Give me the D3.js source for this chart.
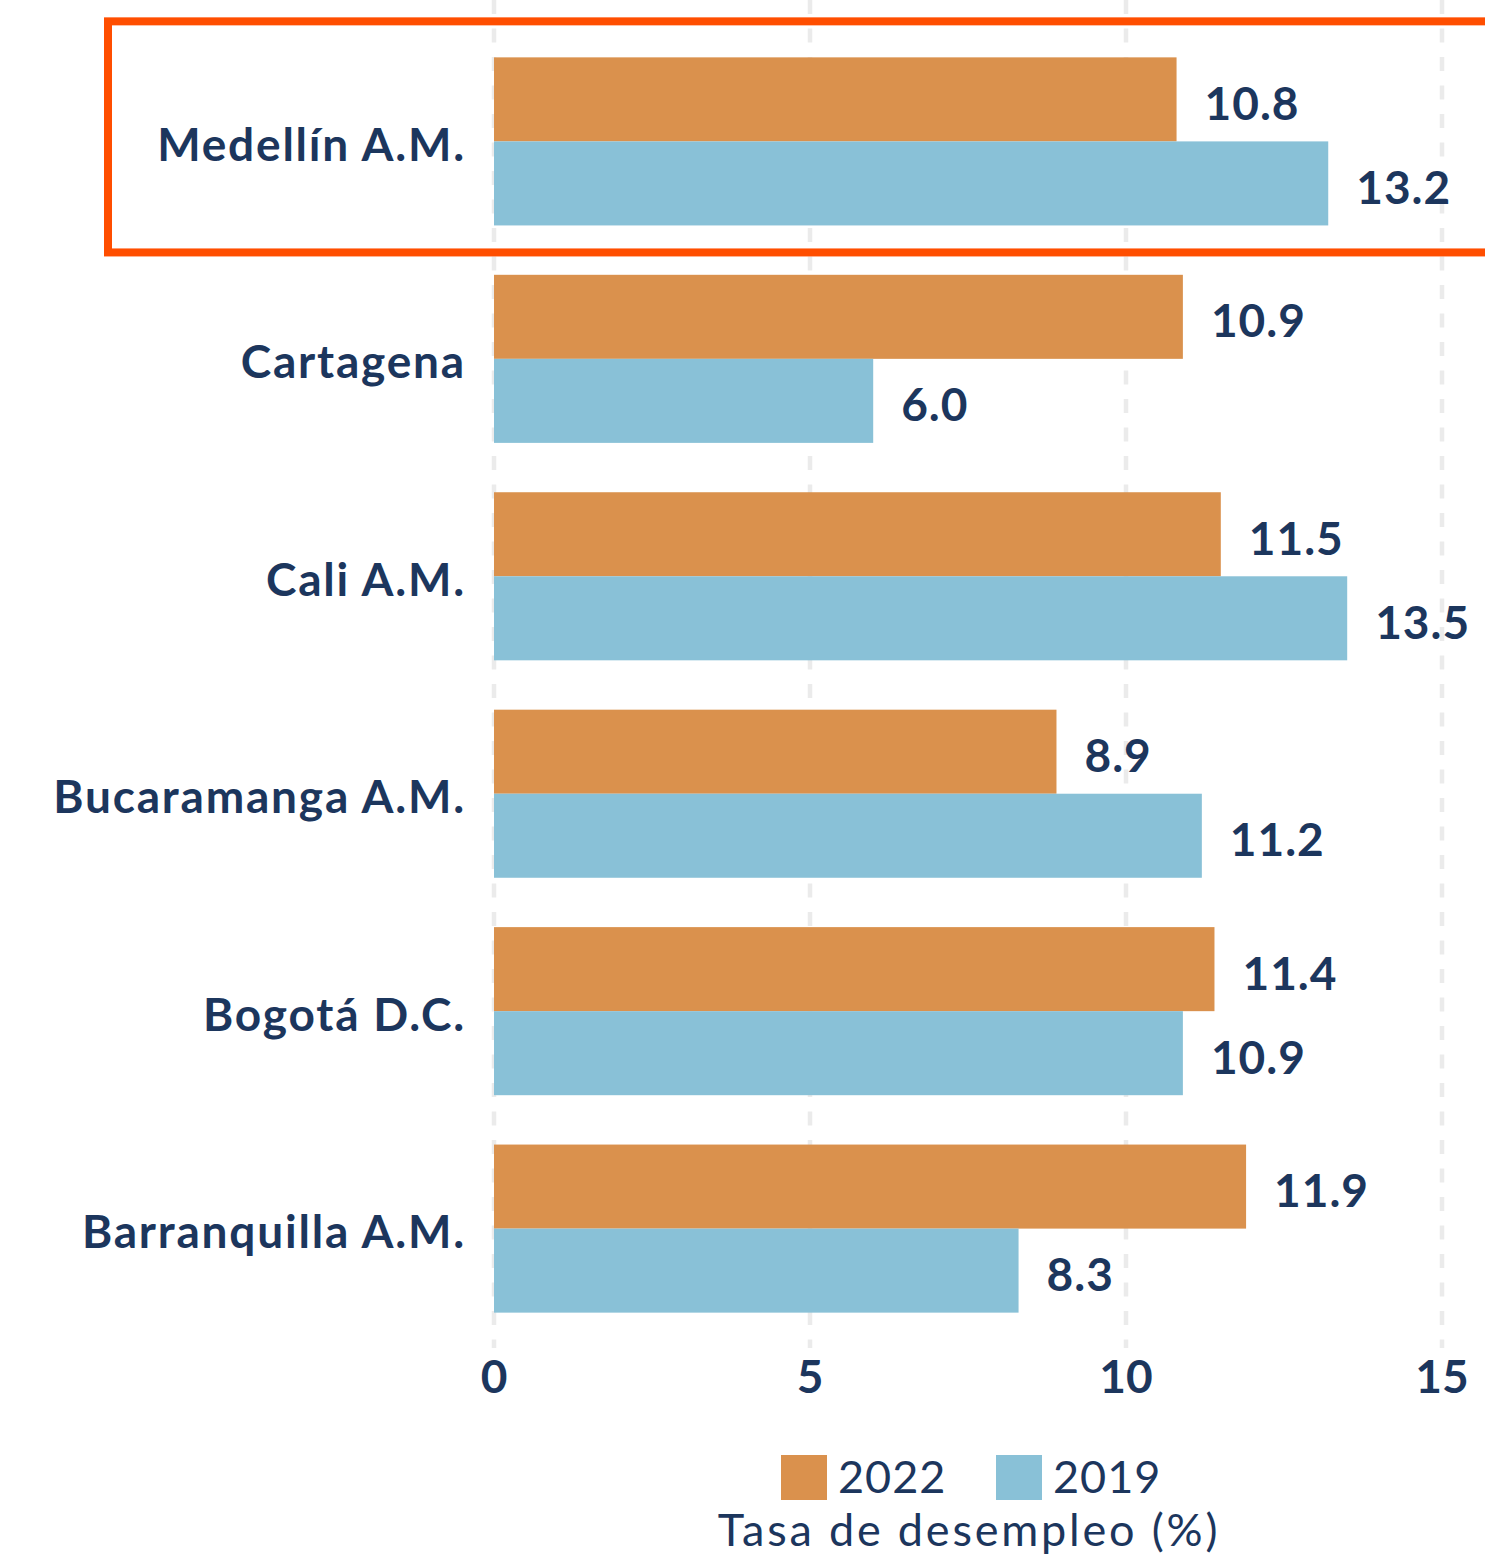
<!DOCTYPE html>
<html>
<head>
<meta charset="utf-8">
<script src="https://cdn.jsdelivr.net/npm/d3@7"></script>
<style>
  body { margin: 0; background: #fff; }
  svg { display: block; font-family: Lato, "Open Sans", sans-serif; }
</style>
</head>
<body>
<div id="chart"></div>
<script>
// data
var cities = ["Medellín A.M.", "Cartagena", "Cali A.M.", "Bucaramanga A.M.", "Bogotá D.C.", "Barranquilla A.M."];
var years = ["2022", "2019"];
var values2022 = [10.8, 10.9, 11.5, 8.9, 11.4, 11.9];
var values2019 = [13.2, 6.0, 13.5, 11.2, 10.9, 8.3];
var xTicks = [0, 5, 10, 15];
var highlightCity = "Medellín A.M.";
var axisTitle = "Tasa de desempleo (%)";

var COLORS = { "2022": "#DA914D", "2019": "#89C1D7" };
var TEXT = "#1C365D";

var width = 1485, height = 1556;
var rows = [];
cities.forEach(function(c, i) {
    rows.push({ city: c, year: "2022", value: values2022[i] });
    rows.push({ city: c, year: "2019", value: values2019[i] });
});

var svg = d3.select("#chart").append("svg")
    .attr("width", width)
    .attr("height", height);

// scales
var x = d3.scaleLinear().domain([0, 15]).range([494, 1442]);
var y = d3.scaleBand().domain(cities).range([8, 1362]).padding(0.227);
var ySub = d3.scaleBand().domain(years).range([0, y.bandwidth()]);

// dashed grid
svg.append("g")
    .selectAll("line")
    .data(xTicks)
    .join("line")
    .attr("x1", function(d) { return x(d); })
    .attr("x2", function(d) { return x(d); })
    .attr("y1", 0)
    .attr("y2", 1348)
    .attr("stroke", "#EBEBEB")
    .attr("stroke-width", 4.5)
    .attr("stroke-dasharray", "14,14.5");

// bars
svg.append("g")
    .selectAll("rect")
    .data(rows)
    .join("rect")
    .attr("x", x(0))
    .attr("y", function(d) { return y(d.city) + ySub(d.year); })
    .attr("width", function(d) { return x(d.value) - x(0); })
    .attr("height", ySub.bandwidth())
    .attr("fill", function(d) { return COLORS[d.year]; });

// value labels
svg.append("g")
    .selectAll("text")
    .data(rows)
    .join("text")
    .attr("x", function(d) { return x(d.value) + 28; })
    .attr("y", function(d) { return y(d.city) + ySub(d.year) + ySub.bandwidth() / 2 + 4; })
    .attr("dy", "0.36em")
    .attr("fill", TEXT)
    .style("font-size", "46px")
    .style("font-weight", "bold")
    .style("letter-spacing", "1px")
    .text(function(d) { return d.value.toFixed(1); });

// category labels
svg.append("g")
    .selectAll("text")
    .data(cities)
    .join("text")
    .attr("x", x(0) - 28)
    .attr("y", function(d) { return y(d) + y.bandwidth() / 2 + 3; })
    .attr("dy", "0.36em")
    .attr("text-anchor", "end")
    .attr("fill", TEXT)
    .style("font-size", "46px")
    .style("font-weight", "bold")
    .style("letter-spacing", "1.8px")
    .text(function(d) { return d; });

// x axis tick labels
svg.append("g")
    .selectAll("text")
    .data(xTicks)
    .join("text")
    .attr("x", function(d) { return x(d); })
    .attr("y", 1393)
    .attr("text-anchor", "middle")
    .attr("fill", TEXT)
    .style("font-size", "46px")
    .style("font-weight", "bold")
    .text(function(d) { return d; });

// highlight box around Medellín
svg.append("rect")
    .attr("x", 108)
    .attr("y", y(highlightCity) - 36)
    .attr("width", 1400)
    .attr("height", y.bandwidth() + 63)
    .attr("fill", "none")
    .attr("stroke", "#FF4E00")
    .attr("stroke-width", 8);

// legend
var legend = svg.append("g");
var legendX = [781, 996];
years.forEach(function(yr, i) {
    legend.append("rect")
        .attr("x", legendX[i])
        .attr("y", 1455)
        .attr("width", 46)
        .attr("height", 45)
        .attr("fill", COLORS[yr]);
    legend.append("text")
        .attr("x", legendX[i] + 57)
        .attr("y", 1493)
        .attr("fill", TEXT)
        .style("font-size", "45px")
        .style("letter-spacing", "1px")
        .text(yr);
});

svg.append("text")
    .attr("x", 969)
    .attr("y", 1546)
    .attr("text-anchor", "middle")
    .attr("fill", TEXT)
    .style("font-size", "45px")
    .style("letter-spacing", "2.8px")
    .text(axisTitle);
</script>
</body>
</html>
